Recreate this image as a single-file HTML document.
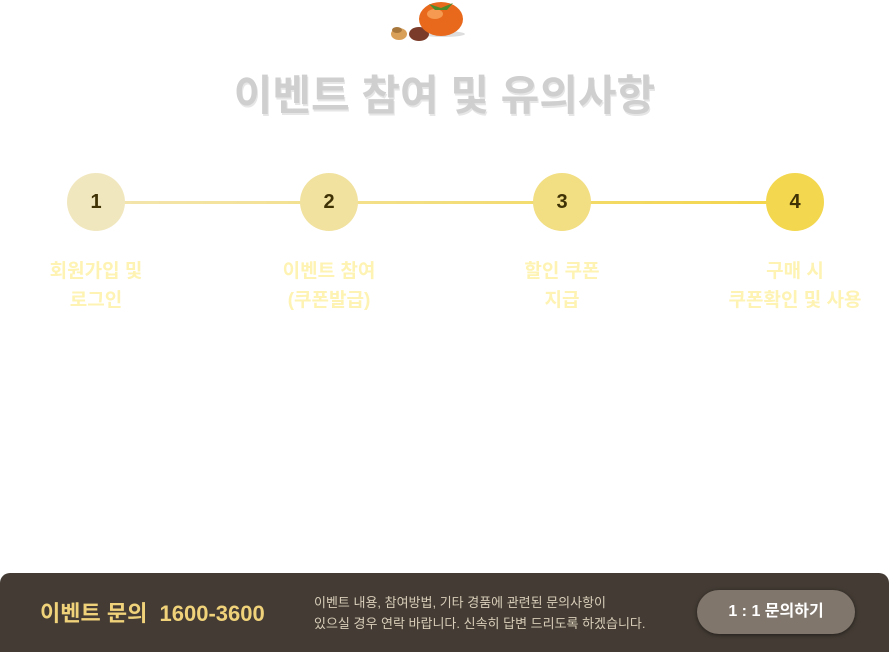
<!DOCTYPE html>
<html><head><meta charset="utf-8"><style>
body{margin:0;width:889px;height:652px;background:#fff;position:relative;overflow:hidden;font-family:"Liberation Sans","Noto Sans CJK KR",sans-serif}
.a{position:absolute}
.title{left:0;width:889px;top:62px;text-align:center;font-size:42px;font-weight:bold;color:#cfcfcf;letter-spacing:0px;text-shadow:1px 2px 0 #e6e6e6}
.c{width:58px;height:58px;border-radius:50%;top:173px;text-align:center;line-height:58px;font-size:20px;font-weight:bold;color:#3f3205}
.l{top:257px;width:200px;text-align:center;font-size:19px;font-weight:bold;color:#fef3b2;line-height:29px}
</style></head><body>
<svg class="a" style="left:385px;top:0" width="85" height="42">
<ellipse cx="58" cy="34" rx="22" ry="3" fill="#ddd"/>
<ellipse cx="14" cy="34" rx="8" ry="6" fill="#d9a05a"/>
<ellipse cx="12" cy="30" rx="5" ry="3" fill="#a8773c"/>
<ellipse cx="34" cy="34" rx="10" ry="7" fill="#7a3b2a"/>
<ellipse cx="56" cy="19" rx="22" ry="17" fill="#e8691c"/>
<ellipse cx="50" cy="14" rx="8" ry="5" fill="#f59a50"/>
<path d="M44 4 L56 8 L68 3 L62 10 L50 10Z" fill="#4d8a2a"/>
</svg>
<div class="a title">이벤트 참여 및 유의사항</div>
<div class="a" style="left:96px;top:201px;width:700px;height:3px;background:linear-gradient(90deg,#f3e6b0,#f3d548)"></div>
<div class="a c" style="left:67px;background:#f1e7bf">1</div>
<div class="a c" style="left:300px;background:#f1e2a0">2</div>
<div class="a c" style="left:533px;background:#f2de83">3</div>
<div class="a c" style="left:766px;background:#f3d74f">4</div>
<div class="a l" style="left:-4px">회원가입 및<br>로그인</div>
<div class="a l" style="left:229px">이벤트 참여<br>(쿠폰발급)</div>
<div class="a l" style="left:462px">할인 쿠폰<br>지급</div>
<div class="a l" style="left:695px">구매 시<br>쿠폰확인 및 사용</div>
<div class="a" style="left:0;top:573px;width:889px;height:79px;background:#433b34;border-radius:10px 10px 0 0"></div>
<div class="a" style="left:40px;top:596px;font-size:22px;font-weight:bold;color:#f0d27a;white-space:pre">이벤트 문의  1600-3600</div>
<div class="a" style="left:314px;top:592px;font-size:13px;color:#d8cdb8;line-height:21px">이벤트 내용, 참여방법, 기타 경품에 관련된 문의사항이<br>있으실 경우 연락 바랍니다. 신속히 답변 드리도록 하겠습니다.</div>
<div class="a" style="left:697px;top:590px;width:158px;height:44px;border-radius:22px;background:#80766c;color:#fff;text-align:center;line-height:44px;font-size:16px;font-weight:bold;box-shadow:0 1px 4px rgba(0,0,0,.5)">1 : 1 문의하기</div>
</body></html>
